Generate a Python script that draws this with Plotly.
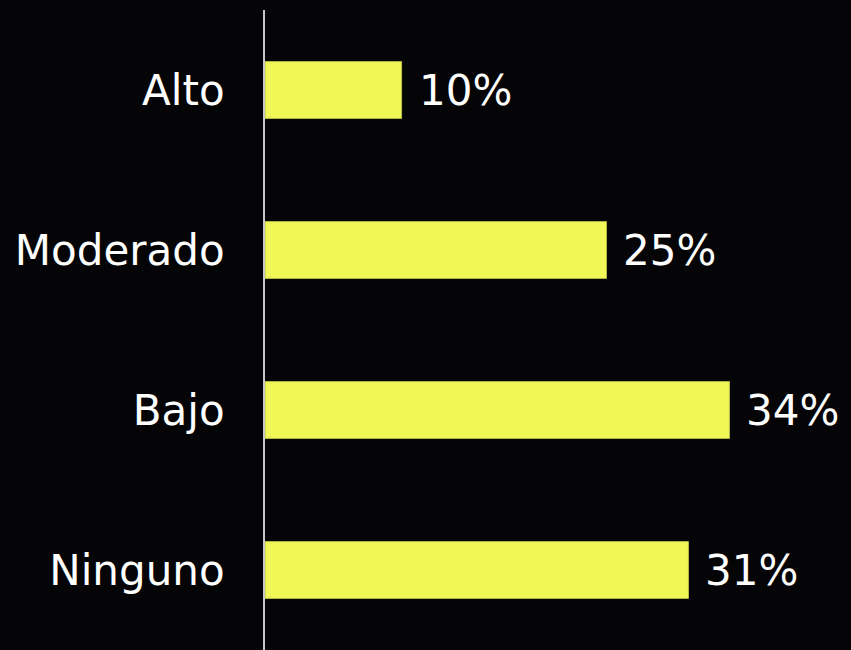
import plotly.graph_objects as go

categories = ["Alto", "Moderado", "Bajo", "Ninguno"]
values = [10, 25, 34, 31]

BAR_COLOR = "#F0F858"
BG = "#050508"
FONT = "DejaVu Sans, Verdana, sans-serif"
SIZE = 42

fig = go.Figure(
    go.Bar(
        y=categories,
        x=values,
        orientation="h",
        marker=dict(color=BAR_COLOR, line=dict(color="#b9bd45", width=1)),
        hoverinfo="skip",
    )
)

for cat, val in zip(categories, values):
    fig.add_annotation(
        x=val, y=cat, text=f"{val}%", showarrow=False,
        xanchor="left", yanchor="middle", xshift=15,
        font=dict(family=FONT, size=SIZE, color="white"),
    )

fig.update_layout(
    width=851, height=650,
    margin=dict(l=265, r=0, t=10, b=0),
    paper_bgcolor=BG, plot_bgcolor=BG,
    bargap=0.645,
    showlegend=False,
    font=dict(family=FONT, size=SIZE, color="white"),
)
fig.update_xaxes(range=[0, 42.9], visible=False, showgrid=False, zeroline=False)
fig.update_yaxes(
    autorange="reversed",
    showgrid=False, zeroline=False,
    showline=True, linecolor="#c8c8c8", linewidth=2,
    ticks="", ticklabelstandoff=30,
    tickfont=dict(family=FONT, size=SIZE, color="white"),
)

fig.write_html("out.html")
